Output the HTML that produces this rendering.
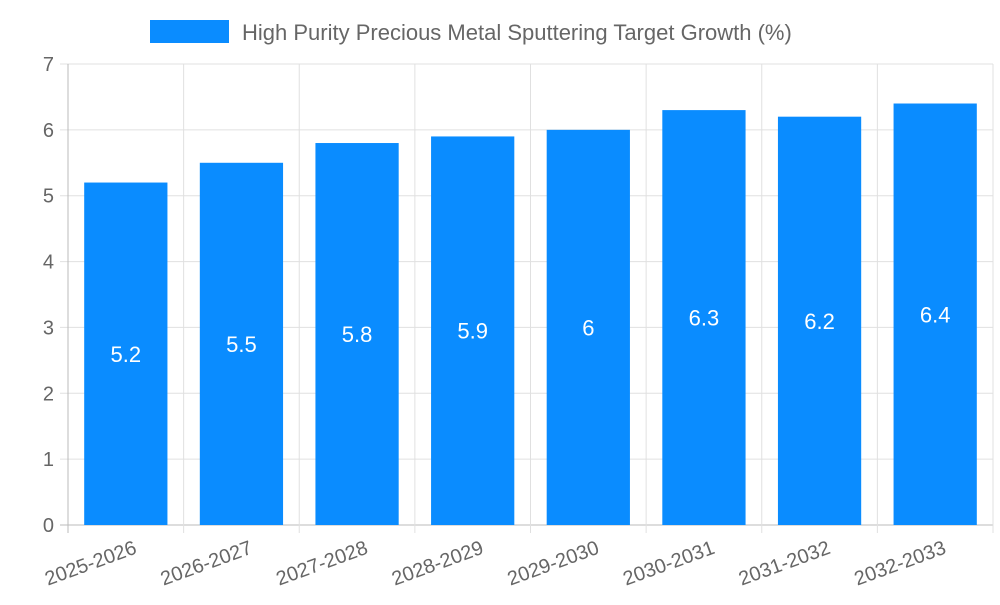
<!DOCTYPE html>
<html><head><meta charset="utf-8"><style>
body{margin:0;background:#fff;font-family:"Liberation Sans",sans-serif;}
svg text{font-family:"Liberation Sans",sans-serif;}
</style></head><body>
<svg id="chart" width="1000" height="600">
<g id="legend">
<rect x="150" y="20" width="79" height="23" fill="#0a8cff"/>
<text x="242" y="40" font-size="22" fill="#666">High Purity Precious Metal Sputtering Target Growth (%)</text>
</g>
<g id="grid"></g><g id="bars"></g><g id="labels"></g>
</svg>
<script>
const categories=["2025-2026","2026-2027","2027-2028","2028-2029","2029-2030","2030-2031","2031-2032","2032-2033"];
const values=[5.2,5.5,5.8,5.9,6,6.3,6.2,6.4];
const yTicks=[0,1,2,3,4,5,6,7];
const NS="http://www.w3.org/2000/svg";
const L=68,R=993,T=64,B=525,yMax=7;
const y=v=>B-(v/yMax)*(B-T);
const bw=(R-L)/categories.length;
const x=i=>L+i*bw;
function mk(tag,attrs,parent){const e=document.createElementNS(NS,tag);for(const k in attrs)e.setAttribute(k,attrs[k]);parent.appendChild(e);return e;}
const grid=document.getElementById('grid'),bars=document.getElementById('bars'),labels=document.getElementById('labels');
yTicks.forEach(t=>{
 const l=mk('line',{x1:L-8,x2:R,y1:y(t),y2:y(t),stroke:t===0?'#bbb':'#e0e0e0','stroke-width':1},grid);
 
 
 const tx=mk('text',{x:L-14,y:y(t)+7,'text-anchor':'end','font-size':20,fill:'#666'},grid);
 tx.textContent=t;
 
 
});
for(let i=0;i<=categories.length;i++){
 const l=mk('line',{x1:x(i),x2:x(i),y1:T,y2:B+8,stroke:i===0?'#bbb':'#e0e0e0','stroke-width':1},grid);
 
 
}
categories.forEach((c,i)=>{
 const w=bw*0.72,bx=x(i)+(bw-w)/2;
 const r=mk('rect',{x:bx,y:y(values[i]),width:w,height:B-y(values[i]),fill:'#0a8cff'},bars);
 
 
 const v=mk('text',{x:bx+w/2,y:(y(values[i])+B)/2+8,'text-anchor':'middle','font-size':22,fill:'#fff'},labels);
 v.textContent=values[i];
 
 
 const cx=x(i)+bw/2+12,cy=B+28;
 const t=mk('text',{x:cx,y:cy,'text-anchor':'end','font-size':20,fill:'#666',transform:`rotate(-20 ${cx} ${cy})`},labels);
 t.textContent=c;
 
 
});
</script>
</body></html>
